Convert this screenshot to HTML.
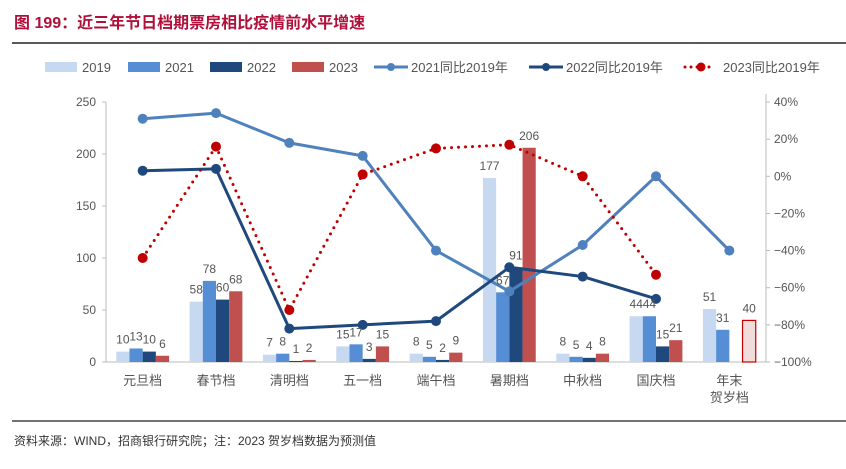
<!DOCTYPE html>
<html><head><meta charset="utf-8"><style>
body{margin:0;width:846px;height:464px;background:#fff;overflow:hidden;font-family:"Liberation Sans","Noto Sans CJK SC",sans-serif;}
</style></head><body>
<svg width="846" height="464" xmlns="http://www.w3.org/2000/svg" font-family="Liberation Sans, Noto Sans CJK SC, sans-serif">
<text x="14" y="28" font-size="16" font-weight="bold" fill="#b0103a">图 199：近三年节日档期票房相比疫情前水平增速</text>
<line x1="12" y1="43" x2="846" y2="43" stroke="#222" stroke-width="1.5"/>
<g id="legend" font-size="13" fill="#555"></g>
<g id="grid"></g>
<g id="bars"></g>
<g id="lines"></g>
<g id="labels" font-size="12" fill="#555"></g>
<line x1="12" y1="421" x2="846" y2="421" stroke="#444" stroke-width="1.5"/>
<text x="14" y="445" font-size="12" fill="#333">资料来源：WIND，招商银行研究院；注：2023 贺岁档数据为预测值</text>
</svg>
<script>
const categories=["元旦档","春节档","清明档","五一档","端午档","暑期档","中秋档","国庆档","年末|贺岁档"];
const bars2019=[10,58,7,15,8,177,8,44,51];
const bars2021=[13,78,8,17,5,67,5,44,31];
const bars2022=[10,60,1,3,2,91,4,15,null];
const bars2023=[6,68,2,15,9,206,8,21,40];
const pct2021=[31,34,18,11,-40,-62,-37,0,-40];
const pct2022=[3,4,-82,-80,-78,-49,-54,-66,null];
const pct2023=[-44,16,-72,1,15,17,0,-53,null];
const leftTicks=[0,50,100,150,200,250];
const rightTicks=[-100,-80,-60,-40,-20,0,20,40];

const NS="http://www.w3.org/2000/svg";
const X0=106,X1=766,Y0=362,Y1=102;
const bw=(X1-X0)/categories.length;
const yL=v=>Y0-(v/250)*(Y0-Y1);
const yR=v=>Y0-((v+100)/140)*(Y0-Y1);
const xc=i=>X0+bw*(i+0.5);
function mk(tag,attrs,parent,text){const e=document.createElementNS(NS,tag);for(const k in attrs)e.setAttribute(k,attrs[k]);if(text!==undefined)e.textContent=text;parent.appendChild(e);return e;}
const grid=document.getElementById('grid'),barsG=document.getElementById('bars'),linesG=document.getElementById('lines'),lab=document.getElementById('labels'),leg=document.getElementById('legend');

let ax=mk('line',{x1:X0,y1:Y0,x2:X1,y2:Y0,stroke:'#bbb'},grid);


ax=mk('line',{x1:X0,y1:Y1,x2:X0,y2:Y0,stroke:'#bbb'},grid);


ax=mk('line',{x1:X1,y1:Y1-8,x2:X1,y2:Y0,stroke:'#bbb'},grid);


leftTicks.forEach(t=>{
  mk('line',{x1:X0-4,x2:X0,y1:yL(t),y2:yL(t),stroke:'#bbb'},grid);
  const e=mk('text',{x:X0-10,y:yL(t)+4,'text-anchor':'end','font-size':12,fill:'#555'},grid,t);
  
  
});
rightTicks.forEach(t=>{
  mk('line',{x1:X1,x2:X1+4,y1:yR(t),y2:yR(t),stroke:'#bbb'},grid);
  const e=mk('text',{x:X1+8,y:yR(t)+4,'font-size':12,fill:'#555'},grid,(t<0?'−':'')+Math.abs(t)+'%');
  
  
});
categories.forEach((c,i)=>{
  c.split('|').forEach((p,j)=>{
    const e=mk('text',{x:xc(i),y:385+j*17,'text-anchor':'middle','font-size':13,fill:'#555'},grid,p);
    
    
  });
});

const series=[[bars2019,'#c6d9f1'],[bars2021,'#558ed5'],[bars2022,'#1f497d'],[bars2023,'#c0504d']];
const bW=13.2;
series.forEach(([arr,col],s)=>{
  arr.forEach((v,i)=>{
    if(v===null)return;
    const x=xc(i)-2*bW+s*bW;
    const last=(s===3&&i===categories.length-1);
    const r=mk('rect',{x:x,y:yL(v),width:bW,height:Y0-yL(v),fill:last?'#f2dcdb':col,stroke:last?'#c00000':'none','stroke-width':1.2},barsG);
    
    
    const t=mk('text',{x:x+bW/2,y:yL(v)-8,'text-anchor':'middle'},lab,v);
    
    
  });
});

function drawLine(arr,col,dotted,name){
  const pts=[];arr.forEach((v,i)=>{if(v!==null)pts.push([xc(i),yR(v)]);});
  const p=mk('polyline',{points:pts.map(p=>p.join(',')).join(' '),fill:'none',stroke:col,'stroke-width':3,'stroke-dasharray':dotted?'0 7':'none','stroke-linecap':'round','stroke-linejoin':'round'},linesG);
  
  
  pts.forEach(q=>{
    const c=mk('circle',{cx:q[0],cy:q[1],r:5,fill:col},linesG);
    
    
  });
}
drawLine(pct2021,'#4f81bd',false,'line-2021-vs-2019');
drawLine(pct2022,'#1f497d',false,'line-2022-vs-2019');
drawLine(pct2023,'#c00000',true,'line-2023-vs-2019');

const legItems=[['2019','#c6d9f1','box',45],['2021','#558ed5','box',128],['2022','#1f497d','box',210],['2023','#c0504d','box',292],['2021同比2019年','#4f81bd','line',374],['2022同比2019年','#1f497d','line',529],['2023同比2019年','#c00000','dot',684]];
legItems.forEach(([t,c,k,x])=>{
  let g=mk('g',{},leg);
  
  
  let tx;
  if(k==='box'){mk('rect',{x:x,y:62,width:32,height:10,fill:c},g);tx=x+37;}
  else if(k==='line'){mk('line',{x1:x,x2:x+34,y1:67,y2:67,stroke:c,'stroke-width':3},g);mk('circle',{cx:x+17,cy:67,r:4,fill:c},g);tx=x+37;}
  else{mk('line',{x1:x+1,x2:x+31,y1:67,y2:67,stroke:c,'stroke-width':3,'stroke-dasharray':'0 6','stroke-linecap':'round'},g);mk('circle',{cx:x+17,cy:67,r:4.5,fill:c},g);tx=x+39;}
  mk('text',{x:tx,y:72,'font-size':13,fill:'#555'},g,t);
});
</script>
</body></html>
